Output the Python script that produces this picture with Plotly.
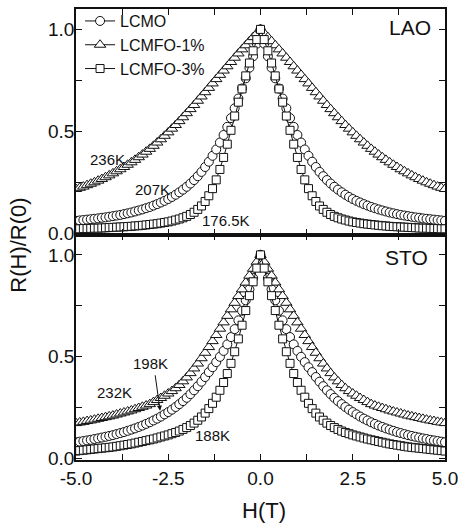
import plotly.graph_objects as go

# Magnetic field grid (T)
field_T = [round(-5.0 + 0.1 * i, 1) for i in range(101)]

# LAO panel, R(H)/R(0)
lao_lcmo = [0.061,0.063,0.065,0.067,0.069,0.071,0.073,0.076,0.078,0.081,0.084,0.087,0.090,0.094,0.098,0.102,0.107,0.112,0.117,0.123,0.129,0.136,0.143,0.151,0.159,0.168,0.178,0.189,0.201,0.214,0.228,0.244,0.261,0.280,0.301,0.325,0.351,0.380,0.411,0.445,0.482,0.522,0.565,0.613,0.661,0.710,0.760,0.812,0.868,0.930,
            1.000,0.930,0.868,0.812,0.760,0.710,0.661,0.613,0.565,0.522,0.482,0.445,0.411,0.380,0.351,0.325,0.301,0.280,0.261,0.244,0.228,0.214,0.201,0.189,0.178,0.168,0.159,0.151,0.143,0.136,0.129,0.123,0.117,0.112,0.107,0.102,0.098,0.094,0.090,0.087,0.084,0.081,0.078,0.076,0.073,0.071,0.069,0.067,0.065,0.063,0.061]
lao_lcmfo1 = [0.217,0.223,0.229,0.236,0.243,0.250,0.258,0.266,0.275,0.284,0.294,0.304,0.314,0.325,0.336,0.348,0.360,0.373,0.386,0.400,0.414,0.429,0.445,0.461,0.478,0.495,0.513,0.531,0.550,0.569,0.589,0.609,0.629,0.650,0.671,0.692,0.713,0.735,0.756,0.777,0.798,0.819,0.840,0.861,0.882,0.902,0.922,0.942,0.962,0.981,
              1.000,0.981,0.962,0.942,0.922,0.902,0.882,0.861,0.840,0.819,0.798,0.777,0.756,0.735,0.713,0.692,0.671,0.650,0.629,0.609,0.589,0.569,0.550,0.531,0.513,0.495,0.478,0.461,0.445,0.429,0.414,0.400,0.386,0.373,0.360,0.348,0.336,0.325,0.314,0.304,0.294,0.284,0.275,0.266,0.258,0.250,0.243,0.236,0.229,0.223,0.217]
lao_lcmfo3 = [0.022,0.022,0.023,0.023,0.024,0.025,0.025,0.026,0.027,0.028,0.029,0.030,0.031,0.032,0.033,0.034,0.036,0.037,0.039,0.041,0.043,0.045,0.047,0.050,0.053,0.056,0.060,0.065,0.070,0.076,0.083,0.092,0.103,0.117,0.134,0.156,0.184,0.219,0.262,0.313,0.372,0.437,0.505,0.575,0.643,0.708,0.772,0.835,0.895,0.950,
              1.000,0.950,0.895,0.835,0.772,0.708,0.643,0.575,0.505,0.437,0.372,0.313,0.262,0.219,0.184,0.156,0.134,0.117,0.103,0.092,0.083,0.076,0.070,0.065,0.060,0.056,0.053,0.050,0.047,0.045,0.043,0.041,0.039,0.037,0.036,0.034,0.033,0.032,0.031,0.030,0.029,0.028,0.027,0.026,0.025,0.025,0.024,0.023,0.023,0.022,0.022]

# STO panel, R(H)/R(0)
sto_lcmo = [0.081,0.084,0.087,0.090,0.093,0.097,0.100,0.104,0.108,0.112,0.116,0.121,0.126,0.131,0.137,0.143,0.149,0.156,0.163,0.171,0.179,0.188,0.197,0.207,0.218,0.229,0.241,0.254,0.268,0.283,0.299,0.317,0.336,0.356,0.378,0.401,0.425,0.449,0.474,0.500,0.529,0.561,0.597,0.636,0.679,0.726,0.777,0.831,0.886,0.942,
            1.000,0.942,0.886,0.831,0.777,0.726,0.679,0.636,0.597,0.561,0.529,0.500,0.474,0.449,0.425,0.401,0.378,0.356,0.336,0.317,0.299,0.283,0.268,0.254,0.241,0.229,0.218,0.207,0.197,0.188,0.179,0.171,0.163,0.156,0.149,0.143,0.137,0.131,0.126,0.121,0.116,0.112,0.108,0.104,0.100,0.097,0.093,0.090,0.087,0.084,0.081]
sto_lcmfo1 = [0.175,0.178,0.181,0.185,0.188,0.192,0.196,0.200,0.204,0.208,0.212,0.217,0.222,0.227,0.232,0.237,0.243,0.249,0.255,0.261,0.268,0.278,0.288,0.298,0.309,0.320,0.332,0.346,0.362,0.380,0.399,0.420,0.443,0.467,0.493,0.520,0.548,0.577,0.607,0.638,0.669,0.701,0.733,0.765,0.798,0.831,0.864,0.898,0.932,0.966,
              1.000,0.966,0.932,0.898,0.864,0.831,0.798,0.765,0.733,0.701,0.669,0.638,0.607,0.577,0.548,0.520,0.493,0.467,0.443,0.420,0.399,0.380,0.362,0.346,0.332,0.320,0.309,0.298,0.288,0.278,0.268,0.261,0.255,0.249,0.243,0.237,0.232,0.227,0.222,0.217,0.212,0.208,0.204,0.200,0.196,0.192,0.188,0.185,0.181,0.178,0.175]
sto_lcmfo3 = [0.038,0.040,0.042,0.044,0.046,0.048,0.050,0.052,0.054,0.056,0.058,0.061,0.064,0.067,0.070,0.073,0.077,0.081,0.085,0.089,0.093,0.097,0.102,0.107,0.112,0.117,0.123,0.129,0.136,0.144,0.153,0.163,0.175,0.189,0.205,0.224,0.246,0.272,0.302,0.336,0.374,0.418,0.468,0.525,0.588,0.655,0.727,0.800,0.868,0.935,
              1.000,0.935,0.868,0.800,0.727,0.655,0.588,0.525,0.468,0.418,0.374,0.336,0.302,0.272,0.246,0.224,0.205,0.189,0.175,0.163,0.153,0.144,0.136,0.129,0.123,0.117,0.112,0.107,0.102,0.097,0.093,0.089,0.085,0.081,0.077,0.073,0.070,0.067,0.064,0.061,0.058,0.056,0.054,0.052,0.050,0.048,0.046,0.044,0.042,0.040,0.038]

series_names = ["LCMO", "LCMFO-1%", "LCMFO-3%"]
x_tickvals = [-5, -3.75, -2.5, -1.25, 0, 1.25, 2.5, 3.75, 5]
x_ticktext = ["-5.0", "", "-2.5", "", "0.0", "", "2.5", "", "5.0"]
y_tickvals = [0, 0.25, 0.5, 0.75, 1.0]
y_ticktext = ["0.0", "", "0.5", "", "1.0"]

FONT = "Liberation Sans, Arial, sans-serif"
INK = "#111111"
symbols = {"LCMO": ("circle", 9), "LCMFO-1%": ("triangle-up", 10), "LCMFO-3%": ("square", 8)}

fig = go.Figure()

panels = [
    ("x", "y", [lao_lcmo, lao_lcmfo1, lao_lcmfo3], True),
    ("x2", "y2", [sto_lcmo, sto_lcmfo1, sto_lcmfo3], False),
]
for xa, ya, data, show in panels:
    for name, vals in zip(series_names, data):
        sym, sz = symbols[name]
        fig.add_trace(go.Scatter(
            x=field_T, y=vals, name=name, mode="lines+markers",
            xaxis=xa, yaxis=ya, showlegend=show,
            line=dict(color=INK, width=1),
            marker=dict(symbol=sym, size=sz, color="white", line=dict(color=INK, width=1)),
        ))

axis_common = dict(
    showline=True, linecolor=INK, linewidth=1.5, mirror="ticks",
    ticks="inside", ticklen=6, tickwidth=1.2, tickcolor=INK,
    showgrid=False, zeroline=False, automargin=False,
    tickfont=dict(family=FONT, size=19, color=INK),
)

fig.update_layout(
    width=458, height=526,
    margin=dict(l=76, r=13, t=9, b=66, autoexpand=False),
    paper_bgcolor="white", plot_bgcolor="white",
    font=dict(family=FONT, color=INK),
    xaxis=dict(**axis_common, domain=[0, 1], anchor="y", range=[-5, 5],
               tickvals=x_tickvals, ticktext=x_ticktext, showticklabels=False),
    yaxis=dict(**axis_common, domain=[0.5, 1], anchor="x", range=[-0.006, 1.1],
               tickvals=y_tickvals, ticktext=y_ticktext, ticklabelstandoff=-4),
    xaxis2=dict(**axis_common, domain=[0, 1], anchor="y2", range=[-5, 5],
                tickvals=x_tickvals, ticktext=x_ticktext, ticklabeloverflow="allow"),
    yaxis2=dict(**axis_common, domain=[0, 0.5], anchor="x2", range=[-0.006, 1.1],
                tickvals=y_tickvals, ticktext=y_ticktext, ticklabelstandoff=-4),
    legend=dict(x=0.011, y=1.011, xanchor="left", yanchor="top",
                font=dict(family=FONT, size=16, color=INK),
                bgcolor="rgba(0,0,0,0)", tracegroupgap=0, itemwidth=30),
    showlegend=True,
)

ann_font = dict(family=FONT, size=15, color=INK)
annotations = [
    dict(x=4.67, y=1.01, xref="x", yref="y", text="LAO", showarrow=False,
         xanchor="right", font=dict(family=FONT, size=21, color=INK)),
    dict(x=4.59, y=0.987, xref="x2", yref="y2", text="STO", showarrow=False,
         xanchor="right", font=dict(family=FONT, size=21, color=INK)),
    dict(x=-4.16, y=0.36, xref="x", yref="y", text="236K", showarrow=False, font=ann_font),
    dict(x=-2.94, y=0.215, xref="x", yref="y", text="207K", showarrow=False, font=ann_font),
    dict(x=-0.93, y=0.064, xref="x", yref="y", text="176.5K", showarrow=False, font=ann_font),
    dict(x=-2.97, y=0.467, xref="x2", yref="y2", text="198K", showarrow=False, font=ann_font),
    dict(x=-3.97, y=0.324, xref="x2", yref="y2", text="232K", showarrow=False, font=ann_font),
    dict(x=-1.29, y=0.113, xref="x2", yref="y2", text="188K", showarrow=False, font=ann_font),
    dict(x=-2.72, y=0.236, xref="x2", yref="y2", ax=-2.86, ay=0.417, axref="x2", ayref="y2",
         text="", showarrow=True, arrowhead=2, arrowsize=1, arrowwidth=1, arrowcolor=INK),
    dict(x=-0.155, y=0.477, xref="paper", yref="paper", text="R(H)/R(0)", textangle=-90,
         xanchor="center", yanchor="middle",
         showarrow=False, font=dict(family=FONT, size=22, color=INK)),
    dict(x=0.509, y=-0.113, xref="paper", yref="paper", text="H(T)",
         xanchor="center", yanchor="middle",
         showarrow=False, font=dict(family=FONT, size=22, color=INK)),
]
fig.update_layout(annotations=annotations)

fig.write_html("out.html")
